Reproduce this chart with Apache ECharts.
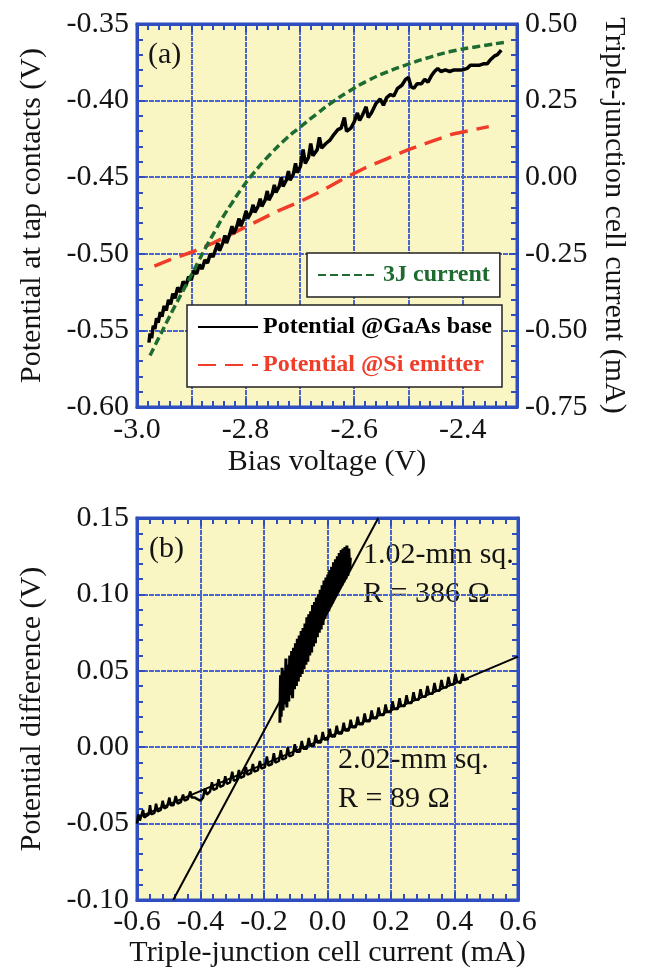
<!DOCTYPE html>
<html>
<head>
<meta charset="utf-8">
<script src="https://cdn.jsdelivr.net/npm/echarts@6/dist/echarts.min.js"></script>
<style>
  html, body { margin: 0; padding: 0; background: #ffffff; }
  #chart { width: 651px; height: 971px; }
</style>
</head>
<body>
<div id="chart"></div>
<script>
// (a) potential at GaAs base, [bias V, potential V]
const gaasBase = [
  [-2.978, -0.558], [-2.976, -0.552], [-2.973, -0.555], [-2.970, -0.547], [-2.967, -0.549],
  [-2.964, -0.542], [-2.961, -0.545], [-2.957, -0.538], [-2.954, -0.541], [-2.950, -0.534],
  [-2.946, -0.537], [-2.942, -0.530], [-2.938, -0.533], [-2.934, -0.526], [-2.930, -0.529],
  [-2.925, -0.522], [-2.920, -0.525], [-2.915, -0.518], [-2.910, -0.521], [-2.905, -0.515],
  [-2.900, -0.517], [-2.895, -0.511], [-2.890, -0.513], [-2.885, -0.507], [-2.880, -0.510],
  [-2.875, -0.504], [-2.870, -0.506], [-2.865, -0.500], [-2.860, -0.502], [-2.855, -0.497],
  [-2.851, -0.493], [-2.848, -0.498], [-2.842, -0.493], [-2.838, -0.488], [-2.835, -0.493],
  [-2.829, -0.487], [-2.825, -0.482], [-2.822, -0.487], [-2.816, -0.482], [-2.812, -0.477],
  [-2.809, -0.482], [-2.803, -0.477], [-2.799, -0.472], [-2.796, -0.477], [-2.790, -0.473],
  [-2.786, -0.468], [-2.783, -0.473], [-2.777, -0.469], [-2.773, -0.464], [-2.770, -0.469],
  [-2.764, -0.465], [-2.760, -0.459], [-2.757, -0.465], [-2.751, -0.461], [-2.747, -0.455],
  [-2.744, -0.460], [-2.738, -0.456], [-2.734, -0.450], [-2.731, -0.456], [-2.725, -0.452],
  [-2.721, -0.446], [-2.718, -0.452], [-2.712, -0.448], [-2.708, -0.441], [-2.705, -0.447],
  [-2.699, -0.443], [-2.694, -0.432], [-2.690, -0.441], [-2.684, -0.437], [-2.680, -0.428],
  [-2.676, -0.436], [-2.668, -0.432], [-2.664, -0.424], [-2.660, -0.431], [-2.652, -0.428],
  [-2.645, -0.426], [-2.637, -0.422], [-2.630, -0.419], [-2.624, -0.418], [-2.618, -0.411],
  [-2.614, -0.420], [-2.606, -0.418], [-2.600, -0.414], [-2.594, -0.408], [-2.590, -0.413],
  [-2.584, -0.409], [-2.578, -0.404], [-2.574, -0.411], [-2.568, -0.408], [-2.560, -0.402],
  [-2.552, -0.399], [-2.546, -0.403], [-2.540, -0.398], [-2.533, -0.396], [-2.527, -0.397],
  [-2.520, -0.392], [-2.512, -0.390], [-2.505, -0.386], [-2.500, -0.385], [-2.495, -0.391],
  [-2.490, -0.392], [-2.484, -0.389], [-2.476, -0.389], [-2.470, -0.386], [-2.464, -0.388],
  [-2.458, -0.384], [-2.452, -0.381], [-2.446, -0.379], [-2.440, -0.381], [-2.432, -0.380],
  [-2.424, -0.381], [-2.416, -0.380], [-2.408, -0.380], [-2.400, -0.380], [-2.392, -0.379],
  [-2.386, -0.377], [-2.378, -0.377], [-2.370, -0.377], [-2.362, -0.376], [-2.355, -0.376],
  [-2.348, -0.373], [-2.342, -0.371], [-2.336, -0.370], [-2.329, -0.367]
];

// (a) potential at Si emitter
const siEmitter = [
  [-2.968, -0.508], [-2.940, -0.504], [-2.900, -0.499], [-2.860, -0.493], [-2.820, -0.486],
  [-2.780, -0.479], [-2.740, -0.472], [-2.700, -0.466], [-2.660, -0.459], [-2.620, -0.451],
  [-2.580, -0.444], [-2.540, -0.438], [-2.500, -0.432], [-2.460, -0.427], [-2.420, -0.422],
  [-2.380, -0.419], [-2.352, -0.417]
];

// (a) 3J current, right axis (mA)
const current3J = [
  [-2.976, -0.582], [-2.960, -0.525], [-2.945, -0.472], [-2.930, -0.420], [-2.915, -0.370],
  [-2.900, -0.320], [-2.886, -0.272], [-2.872, -0.225], [-2.856, -0.175], [-2.841, -0.128],
  [-2.825, -0.084], [-2.810, -0.044], [-2.786, 0.012], [-2.755, 0.074], [-2.724, 0.128],
  [-2.700, 0.163], [-2.670, 0.205], [-2.640, 0.245], [-2.610, 0.280], [-2.575, 0.315],
  [-2.540, 0.343], [-2.500, 0.369], [-2.460, 0.392], [-2.423, 0.410], [-2.374, 0.426],
  [-2.323, 0.440]
];

// (b) 1.02-mm sq. measurement, [current mA, potential difference V]
const sq102 = [
  [-0.150, 0.016], [-0.148, 0.047], [-0.146, 0.020], [-0.143, 0.052], [-0.140, 0.024],
  [-0.137, 0.050], [-0.134, 0.028], [-0.131, 0.058], [-0.128, 0.026], [-0.125, 0.054],
  [-0.122, 0.030], [-0.119, 0.060], [-0.116, 0.034], [-0.113, 0.063], [-0.110, 0.032],
  [-0.107, 0.065], [-0.104, 0.038], [-0.101, 0.068], [-0.098, 0.040], [-0.095, 0.071],
  [-0.092, 0.043], [-0.089, 0.073], [-0.086, 0.046], [-0.083, 0.076], [-0.080, 0.048],
  [-0.077, 0.078], [-0.074, 0.051], [-0.071, 0.081], [-0.068, 0.054], [-0.065, 0.085],
  [-0.062, 0.056], [-0.059, 0.087], [-0.056, 0.060], [-0.053, 0.089], [-0.050, 0.062],
  [-0.047, 0.093], [-0.044, 0.066], [-0.041, 0.095], [-0.038, 0.068], [-0.035, 0.098],
  [-0.032, 0.072], [-0.029, 0.100], [-0.026, 0.075], [-0.023, 0.103], [-0.020, 0.077],
  [-0.017, 0.106], [-0.014, 0.080], [-0.011, 0.109], [-0.008, 0.084], [-0.005, 0.111],
  [-0.002, 0.087], [0.001, 0.113], [0.004, 0.089], [0.007, 0.116], [0.010, 0.092],
  [0.013, 0.118], [0.016, 0.094], [0.019, 0.121], [0.022, 0.097], [0.025, 0.123],
  [0.028, 0.099], [0.031, 0.125], [0.034, 0.102], [0.037, 0.127], [0.040, 0.104],
  [0.043, 0.129], [0.046, 0.106], [0.049, 0.130], [0.052, 0.108], [0.055, 0.131],
  [0.058, 0.110], [0.061, 0.132], [0.064, 0.112], [0.067, 0.130], [0.070, 0.116],
  [0.072, 0.124]
];

// (b) 2.02-mm sq. measurement
const sq202 = [
  [-0.600, -0.050], [-0.596, -0.044], [-0.591, -0.048], [-0.585, -0.047], [-0.581, -0.041],
  [-0.577, -0.046], [-0.570, -0.045], [-0.563, -0.044], [-0.559, -0.038], [-0.555, -0.044],
  [-0.545, -0.043], [-0.540, -0.037], [-0.535, -0.042], [-0.525, -0.041], [-0.519, -0.035],
  [-0.514, -0.040], [-0.505, -0.039], [-0.498, -0.033], [-0.494, -0.038], [-0.485, -0.038],
  [-0.478, -0.032], [-0.472, -0.037], [-0.462, -0.036], [-0.455, -0.031], [-0.450, -0.035],
  [-0.440, -0.034], [-0.432, -0.029], [-0.428, -0.033], [-0.418, -0.033], [-0.410, -0.034],
  [-0.400, -0.035], [-0.392, -0.033], [-0.386, -0.027], [-0.380, -0.031], [-0.370, -0.029],
  [-0.364, -0.023], [-0.359, -0.028], [-0.349, -0.027], [-0.343, -0.021], [-0.338, -0.026],
  [-0.328, -0.025], [-0.322, -0.019], [-0.317, -0.024], [-0.307, -0.023], [-0.300, -0.016],
  [-0.295, -0.022], [-0.285, -0.021], [-0.279, -0.015], [-0.274, -0.020], [-0.263, -0.019],
  [-0.257, -0.013], [-0.252, -0.018], [-0.241, -0.017], [-0.235, -0.011], [-0.230, -0.016],
  [-0.219, -0.015], [-0.213, -0.009], [-0.208, -0.014], [-0.197, -0.013], [-0.191, -0.006],
  [-0.186, -0.012], [-0.175, -0.011], [-0.169, -0.004], [-0.164, -0.010], [-0.153, -0.009],
  [-0.147, -0.002], [-0.142, -0.008], [-0.131, -0.007], [-0.125, 0.000], [-0.120, -0.006],
  [-0.109, -0.005], [-0.103, 0.002], [-0.098, -0.003], [-0.087, -0.003], [-0.081, 0.004],
  [-0.076, -0.001], [-0.065, -0.001], [-0.059, 0.006], [-0.054, 0.001], [-0.043, 0.001],
  [-0.037, 0.008], [-0.032, 0.003], [-0.021, 0.003], [-0.015, 0.010], [-0.010, 0.005],
  [0.001, 0.005], [0.007, 0.012], [0.012, 0.007], [0.023, 0.007], [0.029, 0.014],
  [0.034, 0.009], [0.045, 0.009], [0.051, 0.016], [0.056, 0.011], [0.067, 0.011],
  [0.073, 0.018], [0.078, 0.013], [0.089, 0.013], [0.095, 0.020], [0.100, 0.015],
  [0.111, 0.015], [0.117, 0.022], [0.122, 0.017], [0.133, 0.017], [0.139, 0.024],
  [0.144, 0.019], [0.155, 0.019], [0.161, 0.026], [0.166, 0.021], [0.177, 0.021],
  [0.183, 0.028], [0.188, 0.023], [0.199, 0.023], [0.205, 0.030], [0.210, 0.025],
  [0.221, 0.025], [0.227, 0.032], [0.232, 0.027], [0.243, 0.027], [0.249, 0.034],
  [0.254, 0.029], [0.265, 0.029], [0.271, 0.036], [0.276, 0.031], [0.287, 0.031],
  [0.293, 0.038], [0.298, 0.033], [0.309, 0.033], [0.315, 0.040], [0.320, 0.035],
  [0.331, 0.035], [0.337, 0.042], [0.342, 0.037], [0.353, 0.037], [0.359, 0.044],
  [0.364, 0.039], [0.375, 0.039], [0.381, 0.046], [0.386, 0.041], [0.397, 0.041],
  [0.403, 0.048], [0.408, 0.043], [0.419, 0.042], [0.425, 0.048], [0.430, 0.044],
  [0.445, 0.045]
];

// fitted lines (end points at the frame)
const fit386 = [[-0.486, -0.10], [0.160, 0.15]];
const fit89 = [[-0.600, -0.0463], [0.600, 0.0593]];

const FONT = '"Liberation Serif", "Times New Roman", serif';
const TEXT = '#141414';
const FRAME = '#2e4ec0';
const GRID = '#4a64d2';
const PLOT_BG = '#faf6c4';
const GREEN = '#1e6b30';
const RED = '#f03c28';

const frameLine = { show: true, onZero: false, lineStyle: { color: FRAME, width: 3 } };
const majorTick = { show: true, inside: true, length: 8, lineStyle: { color: FRAME, width: 2 } };
const minorTick = { show: true, splitNumber: 5, length: 6, lineStyle: { color: FRAME, width: 2 } };
const gridLine = { show: true, lineStyle: { color: GRID, width: 2, type: [5, 1] } };
const tickFont = { fontFamily: FONT, fontSize: 30, color: TEXT };
const nameFont = { fontFamily: FONT, fontSize: 30, color: TEXT };

function fixed(n) {
  return v => (Math.abs(v) < 1e-9 ? 0 : v).toFixed(n);
}

function mirror(base, pos) {
  return Object.assign({}, base, {
    position: pos,
    name: '',
    axisLabel: { show: false },
    splitLine: { show: false }
  });
}

const xA = {
  type: 'value', gridIndex: 0, min: -3.0, max: -2.3, interval: 0.1,
  axisLine: frameLine, axisTick: majorTick, minorTick: minorTick, splitLine: gridLine,
  axisLabel: Object.assign({ margin: 8, formatter: v => (Math.round(v * 10) % 2 === 0 ? v.toFixed(1) : '') }, tickFont),
  name: 'Bias voltage (V)', nameLocation: 'middle', nameGap: 40, nameTextStyle: nameFont
};
const xB = {
  type: 'value', gridIndex: 1, min: -0.6, max: 0.6, interval: 0.2,
  axisLine: frameLine, axisTick: majorTick, minorTick: minorTick, splitLine: gridLine,
  axisLabel: Object.assign({ margin: 7, formatter: fixed(1) }, tickFont),
  name: 'Triple-junction cell current (mA)', nameLocation: 'middle', nameGap: 36, nameTextStyle: nameFont
};
const yA = {
  type: 'value', gridIndex: 0, min: -0.6, max: -0.35, interval: 0.05, position: 'left',
  axisLine: frameLine, axisTick: majorTick, minorTick: minorTick, splitLine: gridLine,
  axisLabel: Object.assign({ margin: 8, formatter: fixed(2) }, tickFont),
  name: 'Potential at tap contacts (V)', nameLocation: 'middle', nameGap: 90, nameRotate: 90,
  nameTextStyle: nameFont
};
const yARight = {
  type: 'value', gridIndex: 0, min: -0.75, max: 0.5, interval: 0.25, position: 'right',
  axisLine: frameLine, axisTick: majorTick, minorTick: minorTick, splitLine: { show: false },
  axisLabel: Object.assign({ margin: 8, formatter: fixed(2) }, tickFont),
  name: 'Triple-junction cell current (mA)', nameLocation: 'middle', nameGap: 82, nameRotate: -90,
  nameTextStyle: nameFont
};
const yB = {
  type: 'value', gridIndex: 1, min: -0.1, max: 0.15, interval: 0.05, position: 'left',
  axisLine: frameLine, axisTick: majorTick, minorTick: minorTick, splitLine: gridLine,
  axisLabel: Object.assign({ margin: 8, formatter: fixed(2) }, tickFont),
  name: 'Potential difference (V)', nameLocation: 'middle', nameGap: 90, nameRotate: 90,
  nameTextStyle: nameFont
};

const legendBox = {
  backgroundColor: '#ffffff', borderColor: '#222222', borderWidth: 1.5, borderRadius: 0,
  padding: [10, 10], itemWidth: 60, itemHeight: 14, selectedMode: false,
  itemStyle: { opacity: 0 },
  textStyle: { fontFamily: FONT, fontSize: 24, fontWeight: 'bold', color: TEXT }
};

const options = {
  animation: false,
  backgroundColor: '#ffffff',
  grid: [
    { left: 137, top: 24, width: 380, height: 383, show: true, backgroundColor: PLOT_BG, borderColor: FRAME, borderWidth: 3 },
    { left: 137, top: 518, width: 381, height: 382, show: true, backgroundColor: PLOT_BG, borderColor: FRAME, borderWidth: 3 }
  ],
  xAxis: [xA, mirror(xA, 'top'), xB, mirror(xB, 'top')],
  yAxis: [yA, yARight, yB, mirror(yB, 'right')],
  legend: [
    Object.assign({}, legendBox, {
      left: 307, top: 253,
      data: [{ name: '3J current', textStyle: { color: GREEN } }]
    }),
    Object.assign({}, legendBox, {
      left: 187, top: 305, orient: 'vertical', itemGap: 14,
      data: [
        { name: 'Potential @GaAs base', textStyle: { color: '#000000' } },
        { name: 'Potential @Si emitter', textStyle: { color: RED } }
      ]
    })
  ],
  series: [
    {
      name: 'Potential @Si emitter', type: 'line', xAxisIndex: 0, yAxisIndex: 0,
      symbol: 'none', data: siEmitter,
      lineStyle: { color: RED, width: 3.5, type: [18, 9] }, itemStyle: { color: RED }
    },
    {
      name: 'Potential @GaAs base', type: 'line', xAxisIndex: 0, yAxisIndex: 0,
      symbol: 'none', data: gaasBase,
      lineStyle: { color: '#000000', width: 3.5 }, itemStyle: { color: '#000000' }
    },
    {
      name: '3J current', type: 'line', xAxisIndex: 0, yAxisIndex: 1,
      symbol: 'none', data: current3J, smooth: true,
      lineStyle: { color: GREEN, width: 3.5, type: [8, 4] }, itemStyle: { color: GREEN }
    },
    {
      name: '1.02-mm sq. fit', type: 'line', xAxisIndex: 2, yAxisIndex: 2,
      symbol: 'none', data: fit386, lineStyle: { color: '#000000', width: 2 }
    },
    {
      name: '2.02-mm sq. fit', type: 'line', xAxisIndex: 2, yAxisIndex: 2,
      symbol: 'none', data: fit89, lineStyle: { color: '#000000', width: 2 }
    },
    {
      name: '1.02-mm sq.', type: 'line', xAxisIndex: 2, yAxisIndex: 2,
      symbol: 'none', data: sq102, lineStyle: { color: '#000000', width: 3 }
    },
    {
      name: '2.02-mm sq.', type: 'line', xAxisIndex: 2, yAxisIndex: 2,
      symbol: 'none', data: sq202, lineStyle: { color: '#000000', width: 2.5 }
    }
  ],
  graphic: [
    { type: 'text', left: 148, top: 40, style: { text: '(a)', font: '30px ' + FONT, fill: TEXT } },
    { type: 'text', left: 149, top: 534, style: { text: '(b)', font: '30px ' + FONT, fill: TEXT } },
    { type: 'text', left: 363, top: 540, style: { text: '1.02-mm sq.', font: '30px ' + FONT, fill: TEXT } },
    { type: 'text', left: 363, top: 579, style: { text: 'R = 386 \u03a9', font: '30px ' + FONT, fill: TEXT } },
    { type: 'text', left: 338, top: 745, style: { text: '2.02-mm sq.', font: '30px ' + FONT, fill: TEXT } },
    { type: 'text', left: 338, top: 784, style: { text: 'R = 89 \u03a9', font: '30px ' + FONT, fill: TEXT } }
  ]
};

const chart = echarts.init(document.getElementById('chart'));
chart.setOption(options);
</script>
</body>
</html>
